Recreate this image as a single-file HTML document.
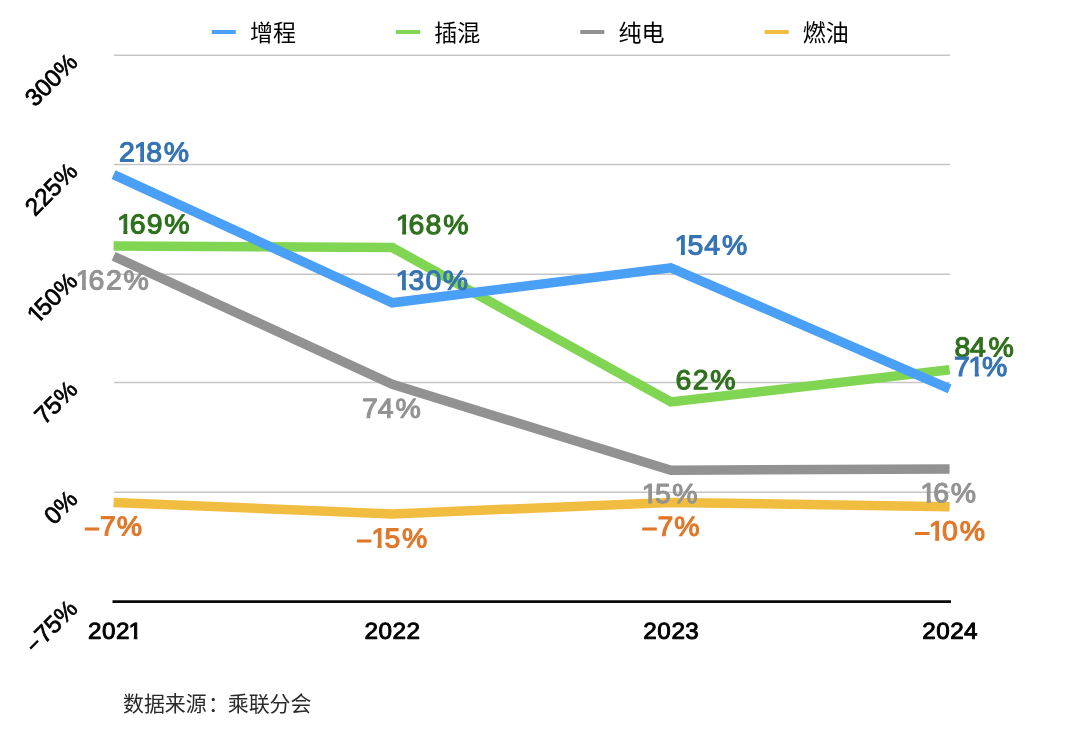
<!DOCTYPE html>
<html lang="zh"><head><meta charset="utf-8"><title>Chart</title>
<style>
html,body{margin:0;padding:0;background:#fff;}
body{width:1080px;height:733px;overflow:hidden;position:relative;font-family:"Liberation Sans",sans-serif;}
svg{position:absolute;left:0;top:0;display:block;will-change:transform;}
text{font-family:"Liberation Sans",sans-serif;white-space:pre;}
.dl{font-size:27.5px;stroke-width:1.1px;stroke-linejoin:round;}
.yr{font-size:23.1px;fill:#000;stroke:#000;stroke-width:0.95px;stroke-linejoin:round;}
.yl{font-size:24.3px;fill:#000;stroke:#000;stroke-width:0.7px;}
.cjk{font-family:"Liberation Sans","Noto Sans CJK SC",sans-serif;fill:#000;stroke:none;}
</style></head><body>
<svg width="1080" height="733" viewBox="0 0 1080 733" role="img" aria-label="Line chart">
<defs>
<clipPath id="k1"><path d="M-3,-27.50H27.50V-3.60H10.04V3H6.22V-3.60H-3Z"/></clipPath>
<clipPath id="k2"><path d="M-3,-23.10H23.10V-3.20H8.47V3H5.18V-3.20H-3Z"/></clipPath>
<clipPath id="k3"><path d="M-3,-24.30H24.30V-3.17H8.76V3H5.61V-3.17H-3Z"/></clipPath>
</defs>
<rect width="1080" height="733" fill="#fff"/>
<g stroke="#c5c5c5" stroke-width="1.4" fill="none">
<line x1="114" y1="55.2" x2="950" y2="55.2"/>
<line x1="114" y1="164.5" x2="950" y2="164.5"/>
<line x1="114" y1="274.2" x2="950" y2="274.2"/>
<line x1="114" y1="382.5" x2="950" y2="382.5"/>
<line x1="114" y1="492.2" x2="950" y2="492.2"/>
</g>
<polyline points="113.6,502.4 392.3,514.0 670.9,502.4 949.6,506.8" fill="none" stroke="#f0bd40" stroke-width="9.5" stroke-linejoin="miter" stroke-linecap="butt"/>
<polyline points="113.6,256.2 392.3,384.4 670.9,470.3 949.6,468.9" fill="none" stroke="#929292" stroke-width="9.5" stroke-linejoin="miter" stroke-linecap="butt"/>
<polyline points="113.6,246.0 392.3,247.5 670.9,401.9 949.6,369.8" fill="none" stroke="#80d552" stroke-width="9.5" stroke-linejoin="miter" stroke-linecap="butt"/>
<polyline points="113.6,174.6 392.3,302.8 670.9,267.9 949.6,388.8" fill="none" stroke="#4a9ff7" stroke-width="9.5" stroke-linejoin="miter" stroke-linecap="butt"/>
<line x1="112.5" y1="601.6" x2="951" y2="601.6" stroke="#0a0a0a" stroke-width="2.7"/>
<rect x="211.7" y="30" width="24" height="4" fill="#4a9ff7"/>
<text class="cjk" x="249.9" y="40.6" font-size="23">增程</text>
<rect x="396.0" y="30" width="24" height="4" fill="#80d552"/>
<text class="cjk" x="434.2" y="40.6" font-size="23">插混</text>
<rect x="580.3" y="30" width="24" height="4" fill="#929292"/>
<text class="cjk" x="618.5" y="40.6" font-size="23">纯电</text>
<rect x="764.6" y="30" width="24" height="4" fill="#f0bd40"/>
<text class="cjk" x="802.8" y="40.6" font-size="23">燃油</text>
<g class="yl" aria-label="300%" transform="translate(78.9 63.8) rotate(-45)"><text x="-62.14" y="0">3</text><text x="-48.62" y="0">0</text><text x="-35.11" y="0">0</text><text x="-21.60" y="0">%</text></g>
<g class="yl" aria-label="225%" transform="translate(78.9 173.1) rotate(-45)"><text x="-62.14" y="0">2</text><text x="-48.62" y="0">2</text><text x="-35.11" y="0">5</text><text x="-21.60" y="0">%</text></g>
<g class="yl" aria-label="150%" transform="translate(78.9 282.8) rotate(-45)"><g transform="translate(-59.21 0)" clip-path="url(#k3)"><text>1</text></g><text x="-48.62" y="0">5</text><text x="-35.11" y="0">0</text><text x="-21.60" y="0">%</text></g>
<g class="yl" aria-label="75%" transform="translate(78.9 391.1) rotate(-45)"><text x="-48.62" y="0">7</text><text x="-35.11" y="0">5</text><text x="-21.60" y="0">%</text></g>
<g class="yl" aria-label="0%" transform="translate(78.9 500.8) rotate(-45)"><text x="-35.11" y="0">0</text><text x="-21.60" y="0">%</text></g>
<g class="yl" aria-label="–75%" transform="translate(78.9 610.2) rotate(-45)"><text transform="translate(-61.34 -1.1) scale(0.78,1)">–</text><text x="-48.62" y="0">7</text><text x="-35.11" y="0">5</text><text x="-21.60" y="0">%</text></g>
<g class="yr"  aria-label="2021"><text transform="translate(88.09 638.80) rotate(.05) scale(1.05,1)">2</text><text transform="translate(101.95 638.80) rotate(.05) scale(1.05,1)">0</text><text transform="translate(115.99 638.80) rotate(.05) scale(1.05,1)">2</text><g transform="translate(128.41 638.80) rotate(.05) scale(1.05,1)" clip-path="url(#k2)"><text>1</text></g></g>
<g class="yr"  aria-label="2022"><text transform="translate(364.49 638.80) rotate(.05) scale(1.05,1)">2</text><text transform="translate(378.55 638.80) rotate(.05) scale(1.05,1)">0</text><text transform="translate(392.39 638.80) rotate(.05) scale(1.05,1)">2</text><text transform="translate(406.39 638.80) rotate(.05) scale(1.05,1)">2</text></g>
<g class="yr"  aria-label="2023"><text transform="translate(643.29 638.80) rotate(.05) scale(1.05,1)">2</text><text transform="translate(657.35 638.80) rotate(.05) scale(1.05,1)">0</text><text transform="translate(671.39 638.80) rotate(.05) scale(1.05,1)">2</text><text transform="translate(685.28 638.80) rotate(.05) scale(1.05,1)">3</text></g>
<g class="yr"  aria-label="2024"><text transform="translate(922.14 638.80) rotate(.05) scale(1.05,1)">2</text><text transform="translate(936.25 638.80) rotate(.05) scale(1.05,1)">0</text><text transform="translate(950.19 638.80) rotate(.05) scale(1.05,1)">2</text><text transform="translate(963.94 638.80) rotate(.05) scale(1.05,1)">4</text></g>
<g class="dl" fill="#e0772a" stroke="#e0772a" aria-label="–7%"><text transform="translate(85.25 535.90) rotate(.05) scale(0.885,1)">–</text><text transform="translate(99.92 535.60) rotate(.05) scale(1.035,1)">7</text><text transform="translate(116.84 535.60) rotate(.05) scale(1.035,1)">%</text></g>
<g class="dl" fill="#e0772a" stroke="#e0772a" aria-label="–15%"><text transform="translate(357.55 547.90) rotate(.05) scale(0.885,1)">–</text><g transform="translate(371.16 547.60) rotate(.05) scale(1.035,1)" clip-path="url(#k1)"><text>1</text></g><text transform="translate(384.43 547.60) rotate(.05) scale(1.035,1)">5</text><text transform="translate(401.94 547.60) rotate(.05) scale(1.035,1)">%</text></g>
<g class="dl" fill="#e0772a" stroke="#e0772a" aria-label="–7%"><text transform="translate(642.75 536.00) rotate(.05) scale(0.885,1)">–</text><text transform="translate(657.42 535.70) rotate(.05) scale(1.035,1)">7</text><text transform="translate(674.34 535.70) rotate(.05) scale(1.035,1)">%</text></g>
<g class="dl" fill="#e0772a" stroke="#e0772a" aria-label="–10%"><text transform="translate(915.45 540.60) rotate(.05) scale(0.885,1)">–</text><g transform="translate(928.76 540.30) rotate(.05) scale(1.035,1)" clip-path="url(#k1)"><text>1</text></g><text transform="translate(942.06 540.30) rotate(.05) scale(1.035,1)">0</text><text transform="translate(959.64 540.30) rotate(.05) scale(1.035,1)">%</text></g>
<g class="dl" fill="#939393" stroke="#939393" aria-label="162%"><g transform="translate(75.56 289.60) rotate(.05) scale(1.035,1)" clip-path="url(#k1)"><text>1</text></g><text transform="translate(88.52 289.60) rotate(.05) scale(1.035,1)">6</text><text transform="translate(105.95 289.60) rotate(.05) scale(1.035,1)">2</text><text transform="translate(123.54 289.60) rotate(.05) scale(1.035,1)">%</text></g>
<g class="dl" fill="#939393" stroke="#939393" aria-label="74%"><text transform="translate(362.02 417.80) rotate(.05) scale(1.035,1)">7</text><text transform="translate(377.71 417.80) rotate(.05) scale(1.035,1)">4</text><text transform="translate(395.44 417.80) rotate(.05) scale(1.035,1)">%</text></g>
<g class="dl" fill="#939393" stroke="#939393" aria-label="15%"><g transform="translate(641.76 503.10) rotate(.05) scale(1.035,1)" clip-path="url(#k1)"><text>1</text></g><text transform="translate(654.93 503.10) rotate(.05) scale(1.035,1)">5</text><text transform="translate(672.34 503.10) rotate(.05) scale(1.035,1)">%</text></g>
<g class="dl" fill="#939393" stroke="#939393" aria-label="16%"><g transform="translate(920.36 502.20) rotate(.05) scale(1.035,1)" clip-path="url(#k1)"><text>1</text></g><text transform="translate(933.22 502.20) rotate(.05) scale(1.035,1)">6</text><text transform="translate(950.84 502.20) rotate(.05) scale(1.035,1)">%</text></g>
<g class="dl" fill="#2e701c" stroke="#2e701c" aria-label="169%"><g transform="translate(116.96 233.60) rotate(.05) scale(1.035,1)" clip-path="url(#k1)"><text>1</text></g><text transform="translate(129.72 233.60) rotate(.05) scale(1.035,1)">6</text><text transform="translate(146.63 233.60) rotate(.05) scale(1.035,1)">9</text><text transform="translate(164.14 233.60) rotate(.05) scale(1.035,1)">%</text></g>
<g class="dl" fill="#2e701c" stroke="#2e701c" aria-label="168%"><g transform="translate(395.76 234.10) rotate(.05) scale(1.035,1)" clip-path="url(#k1)"><text>1</text></g><text transform="translate(408.52 234.10) rotate(.05) scale(1.035,1)">6</text><text transform="translate(425.45 234.10) rotate(.05) scale(1.035,1)">8</text><text transform="translate(443.24 234.10) rotate(.05) scale(1.035,1)">%</text></g>
<g class="dl" fill="#2e701c" stroke="#2e701c" aria-label="62%"><text transform="translate(675.62 389.20) rotate(.05) scale(1.035,1)">6</text><text transform="translate(692.65 389.20) rotate(.05) scale(1.035,1)">2</text><text transform="translate(710.14 389.20) rotate(.05) scale(1.035,1)">%</text></g>
<g class="dl" fill="#2e701c" stroke="#2e701c" aria-label="84%"><text transform="translate(954.55 356.60) rotate(.05) scale(1.035,1)">8</text><text transform="translate(970.01 356.60) rotate(.05) scale(1.035,1)">4</text><text transform="translate(988.44 356.60) rotate(.05) scale(1.035,1)">%</text></g>
<g class="dl" fill="#3573b5" stroke="#3573b5" aria-label="218%"><text transform="translate(118.95 161.60) rotate(.05) scale(1.035,1)">2</text><g transform="translate(133.66 161.60) rotate(.05) scale(1.035,1)" clip-path="url(#k1)"><text>1</text></g><text transform="translate(146.15 161.60) rotate(.05) scale(1.035,1)">8</text><text transform="translate(163.74 161.60) rotate(.05) scale(1.035,1)">%</text></g>
<g class="dl" fill="#3573b5" stroke="#3573b5" aria-label="130%"><g transform="translate(395.56 289.80) rotate(.05) scale(1.035,1)" clip-path="url(#k1)"><text>1</text></g><text transform="translate(408.59 289.80) rotate(.05) scale(1.035,1)">3</text><text transform="translate(425.56 289.80) rotate(.05) scale(1.035,1)">0</text><text transform="translate(442.84 289.80) rotate(.05) scale(1.035,1)">%</text></g>
<g class="dl" fill="#3573b5" stroke="#3573b5" aria-label="154%"><g transform="translate(674.46 254.40) rotate(.05) scale(1.035,1)" clip-path="url(#k1)"><text>1</text></g><text transform="translate(687.43 254.40) rotate(.05) scale(1.035,1)">5</text><text transform="translate(704.21 254.40) rotate(.05) scale(1.035,1)">4</text><text transform="translate(721.94 254.40) rotate(.05) scale(1.035,1)">%</text></g>
<g class="dl" fill="#3573b5" stroke="#3573b5" aria-label="71%"><text transform="translate(954.12 376.10) rotate(.05) scale(1.035,1)">7</text><g transform="translate(968.36 376.10) rotate(.05) scale(1.035,1)" clip-path="url(#k1)"><text>1</text></g><text transform="translate(982.04 376.10) rotate(.05) scale(1.035,1)">%</text></g>
<text class="cjk" y="711.4" font-size="20.95" style="fill:#2a2a2a"><tspan x="123.0">数据来源</tspan><tspan x="208.1">：</tspan><tspan x="227.75">乘联分会</tspan></text>
</svg></body></html>
